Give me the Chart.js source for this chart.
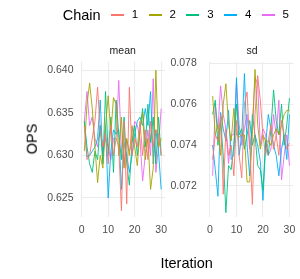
<!DOCTYPE html>
<html><head><meta charset="utf-8">
<script src="https://cdn.jsdelivr.net/npm/chart.js@4"></script>
<style>
html,body{margin:0;padding:0;background:#fff;}
#wrap{position:relative;width:300px;height:279px;overflow:hidden;font-family:"Liberation Sans",Arial,sans-serif;}
canvas{position:absolute;top:0;}
.t{position:absolute;white-space:nowrap;line-height:1;}
</style></head>
<body><div id="wrap">
<canvas id="c1" width="172" height="279" style="left:0"></canvas>
<canvas id="c2" width="135" height="279" style="left:165px"></canvas>
</div>
<script>
const chains = ["1","2","3","4","5"];
const colors = ["#F8766D","#A3A500","#00BF7D","#00B0F6","#E76BF3"];
const iterations = Array.from({length:30},(_,i)=>i+1);
const xTicks = [0,10,20,30];
const meanTicks = [0.625,0.630,0.635,0.640];
const sdTicks = [0.072,0.074,0.076,0.078];

const mean1 = [0.6335,0.6295,0.6300,0.6320,0.6340,0.6380,0.6330,0.6310,0.6325,0.6290,0.6335,0.6300,0.6320,0.6310,0.6235,0.6340,0.6243,0.6380,0.6300,0.6320,0.6310,0.6340,0.6300,0.6330,0.6295,0.6340,0.6310,0.6330,0.6325,0.6300];
const mean2 = [0.6305,0.6360,0.6385,0.6355,0.6310,0.6268,0.6300,0.6285,0.6335,0.6370,0.6325,0.6368,0.6360,0.6300,0.6345,0.6285,0.6320,0.6300,0.6335,0.6310,0.6288,0.6330,0.6350,0.6295,0.6320,0.6260,0.6285,0.6400,0.6310,0.6320];
const mean3 = [0.6340,0.6310,0.6290,0.6280,0.6305,0.6295,0.6335,0.6290,0.6375,0.6300,0.6345,0.6280,0.6365,0.6325,0.6295,0.6345,0.6290,0.6265,0.6315,0.6335,0.6300,0.6330,0.6355,0.6310,0.6360,0.6315,0.6345,0.6290,0.6345,0.6300];
const mean4 = [0.6340,0.6298,0.6300,0.6305,0.6310,0.6320,0.6365,0.6295,0.6335,0.6250,0.6305,0.6330,0.6325,0.6330,0.6260,0.6315,0.6300,0.6280,0.6300,0.6325,0.6340,0.6345,0.6335,0.6355,0.6335,0.6375,0.6290,0.6330,0.6305,0.6260];
const mean5 = [0.6340,0.6375,0.6335,0.6345,0.6320,0.6310,0.6335,0.6305,0.6320,0.6310,0.6295,0.6320,0.6320,0.6388,0.6305,0.6290,0.6318,0.6305,0.6315,0.6340,0.6335,0.6320,0.6270,0.6300,0.6330,0.6300,0.6390,0.6280,0.6310,0.6355];

const sd1 = [0.0733,0.0745,0.0742,0.0755,0.0716,0.0748,0.0735,0.0740,0.0725,0.0752,0.0735,0.0724,0.0760,0.0766,0.0740,0.0711,0.0755,0.0774,0.0762,0.0745,0.0735,0.0742,0.0750,0.0738,0.0745,0.0735,0.0752,0.0745,0.0738,0.0741];
const sd2 = [0.0764,0.0745,0.0750,0.0735,0.0760,0.0770,0.0750,0.0742,0.0758,0.0745,0.0744,0.0745,0.0745,0.0722,0.0722,0.0745,0.0777,0.0750,0.0738,0.0745,0.0742,0.0742,0.0740,0.0745,0.0748,0.0745,0.0750,0.0755,0.0757,0.0757];
const sd3 = [0.0755,0.0762,0.0740,0.0752,0.0735,0.0707,0.0730,0.0728,0.0740,0.0760,0.0745,0.0748,0.0738,0.0745,0.0752,0.0740,0.0745,0.0730,0.0728,0.0718,0.0742,0.0735,0.0748,0.0767,0.0752,0.0745,0.0760,0.0740,0.0750,0.0763];
const sd4 = [0.0740,0.0728,0.0715,0.0756,0.0748,0.0742,0.0757,0.0733,0.0735,0.0773,0.0735,0.0745,0.0775,0.0740,0.0725,0.0755,0.0745,0.0740,0.0732,0.0713,0.0740,0.0755,0.0748,0.0740,0.0735,0.0725,0.0738,0.0745,0.0733,0.0755];
const sd5 = [0.0725,0.0760,0.0748,0.0769,0.0755,0.0748,0.0731,0.0745,0.0745,0.0771,0.0750,0.0740,0.0748,0.0755,0.0738,0.0750,0.0773,0.0770,0.0740,0.0748,0.0745,0.0735,0.0738,0.0755,0.0745,0.0762,0.0723,0.0735,0.0745,0.0730];

const meanSeries = [mean1,mean2,mean3,mean4,mean5];
const sdSeries = [sd1,sd2,sd3,sd4,sd5];

const FONT = "'Liberation Sans', Arial, sans-serif";
const GRID = "#EBEBEB";

function makeDatasets(series){
  return series.map((vals,k)=>({
    label: chains[k],
    data: vals.map((v,i)=>({x:iterations[i], y:v})),
    borderColor: colors[k],
    backgroundColor: colors[k],
    borderWidth: 0.9,
    pointRadius: 0,
    tension: 0,
    fill: false
  }));
}

function makeChart(id, series, yTicks, yMin, yMax, yWidth, padRight, tickPad){
  const xTop = 61.7, plotBottom = 216.7, xAxisH = 20;
  return new Chart(document.getElementById(id), {
    type: 'line',
    data: { datasets: makeDatasets(series) },
    options: {
      responsive: false,
      animation: false,
      devicePixelRatio: 1,
      layout: { padding: { top: xTop, left: 0, right: padRight, bottom: 279 - plotBottom - xAxisH } },
      plugins: { legend: { display: false }, tooltip: { enabled: false } },
      scales: {
        x: {
          type: 'linear', min: -0.45, max: 31.45,
          afterBuildTicks: a => { a.ticks = xTicks.map(v=>({value:v})); },
          afterFit: a => { a.height = xAxisH; a.paddingLeft = 0; a.paddingRight = 0; },
          grid: { color: GRID, lineWidth: 1.1, drawTicks: false },
          border: { display: false },
          ticks: { color: '#4D4D4D', font: { family: FONT, size: 10.5 }, padding: 7, maxRotation: 0, callback: v => String(v) }
        },
        y: {
          type: 'linear', min: yMin, max: yMax,
          afterBuildTicks: a => { a.ticks = yTicks.map(v=>({value:v})); },
          afterFit: a => { a.width = yWidth; a.paddingTop = 0; a.paddingBottom = 0; },
          grid: { color: GRID, lineWidth: 1.1, drawTicks: false },
          border: { display: false },
          ticks: { color: '#4D4D4D', font: { family: FONT, size: 10.5 }, padding: tickPad, callback: v => Number(v).toFixed(3) }
        }
      }
    }
  });
}

// mean panel: plot area x 80.5..165 ; sd panel: plot area x 208.8..293.3
makeChart('c1', meanSeries, meanTicks, 0.6228, 0.6410, 80.5, 7, 7);
makeChart('c2', sdSeries, sdTicks, 0.07050, 0.07808, 43.8, 6.7, 12);

// text elements (strip labels, axis titles, legend)
const wrap = document.getElementById('wrap');
function addText(txt, cx, cy, size, color, rotate){
  const d = document.createElement('div');
  d.className = 't';
  d.textContent = txt;
  d.style.fontSize = size + 'px';
  d.style.color = color;
  d.style.left = cx + 'px';
  d.style.top = cy + 'px';
  d.style.transform = 'translate(-50%,-50%)' + (rotate ? ' rotate(-90deg)' : '');
  wrap.appendChild(d);
}
addText('mean', 122.75, 50, 10.5, '#1A1A1A');
addText('sd', 252, 50, 10.5, '#1A1A1A');
addText('OPS', 32, 139.2, 14.5, '#000', true);
addText('Iteration', 186.7, 263, 14.5, '#000');
addText('Chain', 81.7, 15, 14.5, '#000');
chains.forEach((c,k)=>{
  const x0 = 111 + k*37.7;
  const s = document.createElement('div');
  s.style.position = 'absolute';
  s.style.left = Math.round(x0) + 'px';
  s.style.top = '14px';
  s.style.width = '13px';
  s.style.height = '2px';
  s.style.backgroundColor = colors[k];
  wrap.appendChild(s);
  addText(c, x0 + 24, 15, 11.5, '#000');
});
</script>
</body></html>
